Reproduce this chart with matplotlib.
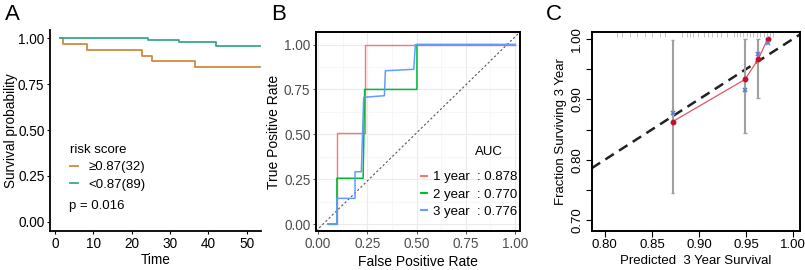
import matplotlib
matplotlib.use('Agg')
import matplotlib.pyplot as plt
from matplotlib.lines import Line2D

plt.rcParams['font.family'] = ['Liberation Sans', 'DejaVu Sans']

# ---------------- Data ----------------
# Panel A: Kaplan-Meier
km_high_time = [1.4, 2.2, 8.3, 22.6, 25.4, 36.6, 53.5]
km_high_surv = [1.0, 0.969, 0.938, 0.906, 0.875, 0.844, 0.844]
km_low_time = [1.4, 24.3, 32.3, 42.1, 53.5]
km_low_surv = [1.0, 0.989, 0.977, 0.960, 0.960]
km_labels = ["\u22650.87(32)", "<0.87(89)"]
km_pvalue = "p = 0.016"

# Panel B: time-dependent ROC
roc1_fpr = [0.05, 0.096, 0.096, 0.237, 0.237, 1.0]
roc1_tpr = [0.0, 0.0, 0.505, 0.505, 1.0, 1.0]
roc2_fpr = [0.05, 0.096, 0.096, 0.229, 0.237, 0.502, 0.502, 1.0]
roc2_tpr = [0.0, 0.0, 0.255, 0.255, 0.750, 0.750, 1.0, 1.0]
roc3_fpr = [0.05, 0.096, 0.096, 0.188, 0.188, 0.220, 0.232, 0.337, 0.342, 0.486, 0.494, 1.0]
roc3_tpr = [0.0, 0.0, 0.143, 0.143, 0.291, 0.291, 0.706, 0.715, 0.854, 0.862, 1.0, 1.0]
roc_labels = ["1 year  : 0.878", "2 year  : 0.770", "3 year  : 0.776"]

# Panel C: calibration
cal_pred = [0.872, 0.949, 0.963, 0.973]
cal_obs = [0.863, 0.933, 0.966, 1.0]
cal_corrected = [0.877, 0.916, 0.975, 0.993]
cal_lower = [0.745, 0.845, 0.903, 1.0]
cal_upper = [0.998, 1.0, 1.0, 1.0]
rug_pred = [0.813, 0.818, 0.827, 0.834, 0.843, 0.850, 0.859, 0.864, 0.882, 0.887,
            0.891, 0.894, 0.899, 0.905, 0.910, 0.914, 0.919, 0.924, 0.930, 0.937,
            0.940, 0.944, 0.947, 0.951, 0.954, 0.958, 0.962, 0.965, 0.969, 0.972,
            0.976, 0.979]

W, H = 805, 270
fig = plt.figure(figsize=(W / 100, H / 100), dpi=100)


def axes_px(l, t, r, b):
    return fig.add_axes([l / W, 1 - b / H, (r - l) / W, (b - t) / H])


# ---------------- Panel A ----------------
axA = axes_px(50, 30, 261, 231)
cA_high = '#D4883A'
cA_low = '#36A98B'
axA.step(km_high_time, km_high_surv, where='post', color=cA_high, lw=1.3)
axA.step(km_low_time, km_low_surv, where='post', color=cA_low, lw=1.3)
axA.set_xlim(-1.3, 53.7)
axA.set_ylim(-0.05, 1.045)
axA.set_xticks([0, 10, 20, 30, 40, 50])
axA.set_yticks([0, 0.25, 0.5, 0.75, 1.0])
axA.set_yticklabels(['0.00', '0.25', '0.50', '0.75', '1.00'])
for s in ['top', 'right']:
    axA.spines[s].set_visible(False)
for s in ['left', 'bottom']:
    axA.spines[s].set_linewidth(1.3)
axA.tick_params(labelsize=9.8, length=2, width=0.8, pad=2, colors='black')
axA.set_xlabel('Time', fontsize=9.8, labelpad=2)
axA.set_ylabel('Survival probability', fontsize=9.8)
axA.yaxis.set_label_coords((11.5 - 50) / 211, 0.5)
axA.yaxis.label.set_verticalalignment('center')
hA = [Line2D([], [], color=cA_high, lw=1.3), Line2D([], [], color=cA_low, lw=1.3)]
legA = axA.legend(hA, km_labels, title='risk score', loc='upper left',
                  bbox_to_anchor=(0.05, 0.48), frameon=False, fontsize=9.5,
                  title_fontsize=9.5, handlelength=0.6, handletextpad=0.8,
                  labelspacing=0.4, alignment='left', borderpad=0.2)
axA.text(0.092, 0.126, km_pvalue, transform=axA.transAxes, fontsize=9.5,
         va='center', ha='left')
fig.text(5 / W, 1 - 14 / H, 'A', fontsize=16, va='center', ha='left')

# ---------------- Panel B ----------------
axB = axes_px(316, 32, 520, 231)
axB.set_xlim(-0.01, 1.025)
axB.set_ylim(-0.039, 1.07)
axB.set_xticks([0, 0.25, 0.5, 0.75, 1.0])
axB.set_yticks([0, 0.25, 0.5, 0.75, 1.0])
axB.set_xticks([0.125, 0.375, 0.625, 0.875], minor=True)
axB.set_yticks([0.125, 0.375, 0.625, 0.875], minor=True)
axB.set_xticklabels(['0.00', '0.25', '0.50', '0.75', '1.00'])
axB.set_yticklabels(['0.00', '0.25', '0.50', '0.75', '1.00'])
axB.grid(True, which='major', color='#EBEBEB', lw=0.8)
axB.grid(True, which='minor', color='#F4F4F4', lw=0.5)
axB.set_axisbelow(True)
axB.tick_params(which='major', labelsize=9.8, length=2, width=0.6,
                colors='#333333', labelcolor='#4D4D4D', pad=2)
axB.tick_params(which='minor', length=0)
for s in axB.spines.values():
    s.set_linewidth(1.4)
    s.set_color('black')
# chance line drawn corner to corner of the panel
axB.plot([0, 1], [0, 1], transform=axB.transAxes, color='#555555', lw=0.8,
         ls=(0, (2, 2)))
cR, cG, cBl = '#F8766D', '#00BA38', '#619CFF'
axB.plot(roc1_fpr, roc1_tpr, color=cR, lw=1.0)
axB.plot(roc2_fpr, roc2_tpr, color=cG, lw=1.1)
axB.plot(roc3_fpr, roc3_tpr, color=cBl, lw=1.1)
axB.set_xlabel('False Positive Rate', fontsize=10, labelpad=3)
axB.set_ylabel('True Positive Rate', fontsize=10, labelpad=2)
hB = [Line2D([], [], color=c, lw=1.5) for c in (cR, cG, cBl)]
axB.legend(hB, roc_labels, loc='upper left', bbox_to_anchor=(0.475, 0.34),
           frameon=False, fontsize=9.5, handlelength=0.45, handletextpad=0.45,
           labelspacing=0.38, borderpad=0.1)
axB.text((489 - 316) / 204, (231 - 152.3) / 199, 'AUC', transform=axB.transAxes,
         fontsize=9.5, ha='center', va='center')
fig.text(271 / W, 1 - 14 / H, 'B', fontsize=16, va='center', ha='left')

# ---------------- Panel C ----------------
axC = axes_px(591.7, 31.7, 800, 231)
axC.set_xlim(0.786, 1.0075)
axC.set_ylim(0.682, 1.012)
axC.axline((0.8, 0.8), slope=1, color='#222222', lw=1.8, ls=(0, (4, 2.5)))
axC.vlines(cal_pred, cal_lower, cal_upper, color='#A0A0A0', lw=1.5)
axC.hlines(cal_upper, [p - 0.002 for p in cal_pred], [p + 0.002 for p in cal_pred],
           color='#A0A0A0', lw=1.0)
axC.hlines(cal_lower, [p - 0.002 for p in cal_pred], [p + 0.002 for p in cal_pred],
           color='#A0A0A0', lw=1.0)
axC.plot(cal_pred, cal_obs, color='#E05565', lw=0.9, marker='o', ms=3.2,
         mfc='#C0102A', mec='#C0102A')
axC.plot(cal_pred, cal_corrected, ls='none', marker='x', ms=3.5, mew=1.2,
         color='#5A80D0')
axC.vlines(rug_pred, 1.004, 1.011, color='#C4C4C4', lw=0.7)
axC.set_xticks([0.80, 0.85, 0.90, 0.95, 1.00])
axC.set_xticklabels(['0.80', '0.85', '0.90', '0.95', '1.00'])
axC.set_yticks([0.70, 0.75, 0.80, 0.85, 0.90, 0.95, 1.00])
axC.set_yticklabels(['0.70', '', '0.80', '', '0.90', '', '1.00'], rotation=90,
                    va='center')
axC.tick_params(labelsize=9.5, length=4, width=0.8, pad=2, colors='black')
for s in axC.spines.values():
    s.set_linewidth(1.4)
axC.set_xlabel('Predicted  3 Year Survival', fontsize=9.5, labelpad=3)
axC.set_ylabel('Fraction Surviving 3 Year', fontsize=9.5, labelpad=3)
fig.text(546 / W, 1 - 14 / H, 'C', fontsize=16, va='center', ha='left')

fig.savefig('out.png', dpi=100)
